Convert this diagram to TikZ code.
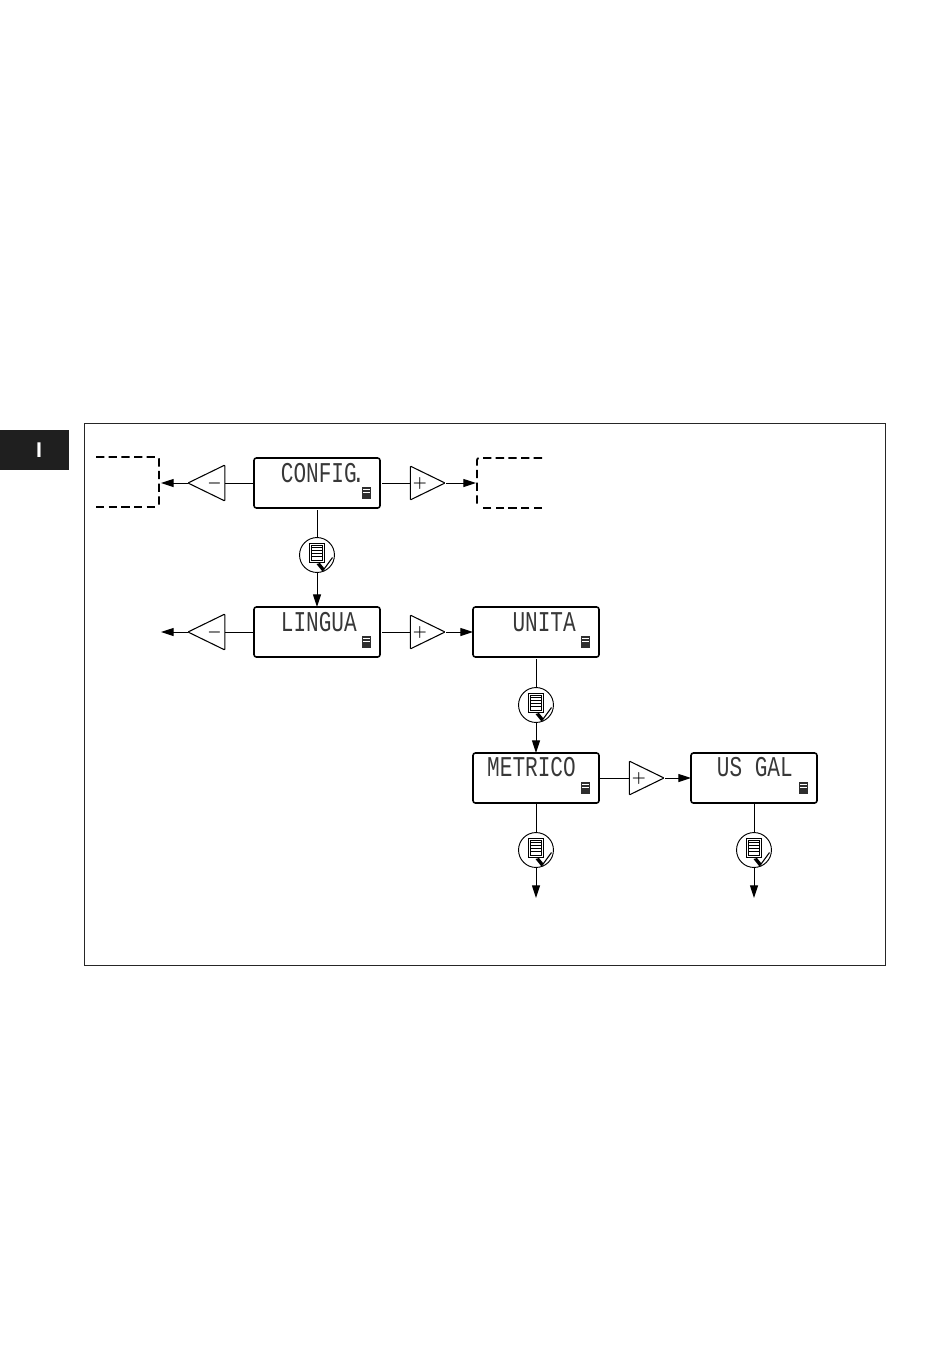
\documentclass[tikz,border=0pt]{standalone}
\usepackage{fontspec}
\newfontfamily\lcdfont{Liberation Mono}
\setsansfont{Liberation Sans}
\usetikzlibrary{calc, positioning, arrows.meta, shapes.geometric}
\colorlet{TabDark}{black!88}
\tikzset{
    lcdbox/.style={
        draw, line width=1.2pt, rounded corners=1.8pt, minimum width=94.5pt, minimum height=37.5pt,
        inner sep=0pt, outer sep=0pt,
        path picture={
            \begin{scope}[sharp corners, shift={(path picture bounding box.center)}]
            \fill[black!82] (45,3.5) rectangle (54,15.5);
            \draw[white, line width=0.3pt] (46,6.5) -- (53,6.5);
            \draw[white, line width=0.3pt] (46,8.8) -- (53,8.8);
            \end{scope}
        }
    },
    lcdtext/.style={anchor=base east, inner sep=0pt, text=black!78, font=\lcdfont\fontsize{15.8pt}{16pt}\selectfont},
    keybtn/.style={
        draw, line width=0.8pt, isosceles triangle, isosceles triangle apex angle=52,
        inner sep=0pt, outer sep=0pt, rounded corners=0.6pt, anchor=apex, font=\large\boldmath
    },
    plusbtn/.style={keybtn, minimum height=26pt},
    minusbtn/.style={keybtn, minimum height=27.6pt, shape border rotate=180},
    okbtn/.style={
        draw, circle, line width=0.7pt, minimum size=26.2pt, inner sep=0pt, outer sep=0pt,
        path picture={
            \begin{scope}[shift={(path picture bounding box.center)}]
            \draw[line width=0.5pt] (-8,-12) rectangle (7.5,7);
            \draw[line width=0.4pt] (-6,-10) rectangle (5.5,5);
            \foreach \h in {-7.5,-4.5,-1.5,1.5}
                \draw[line width=0.5pt] (-5,\h) -- (4.5,\h);
            \fill[white] (-2,8) -- (5,8) -- (5,13) -- (2,13) -- cycle;
            \fill (-0.5,9) -- (3,8) -- (7.5,13.5) -- (5.5,16.5) -- cycle;
            \draw[line width=0.8pt] (6,15.5) -- (15.5,2.5);
            \end{scope}
        }
    },
    link/.style={line width=0.7pt},
    linkgap/.style={link, shorten <=1.5pt},
    flow/.style={link, -{Triangle[length=9.5pt,width=6pt]}},
    flowgap/.style={flow, shorten <=1pt},
    dashbox/.style={line width=1.3pt, dash pattern=on 6.2pt off 3.3pt}
}

\begin{document}
\begin{tikzpicture}[x=0.75pt, y=-0.75pt]

\useasboundingbox (0,0) rectangle (950,1346);

% Marco y solapa
\draw[line width=0.6pt, black!85] (84.5,423.5) rectangle (885,965);
\node[fill=TabDark, minimum width=51.75pt, minimum height=30pt, inner sep=0pt, anchor=north west] (tab) at (0,430) {};
\node[white, font=\sffamily\bfseries\fontsize{16pt}{16pt}\selectfont] (tabI) at (39,450) {I};

% Pantallas
\node[lcdbox] (config) at (317,483) {};
\node[lcdbox] (lingua) at (317,632) {};
\node[lcdbox] (unita) at (536,632) {};
\node[lcdbox] (metrico) at (536,778) {};
\node[lcdbox] (usgal) at (754,778) {};

\node[lcdtext] (configT) at ($(config.north west)+(103,24)$) {\scalebox{1}[1.36]{CONFIG\rlap{\kern-3.5pt.}}};
\node[lcdtext] (linguaT) at ($(lingua.north west)+(103,24)$) {\scalebox{1}[1.36]{LINGUA}};
\node[lcdtext] (unitaT) at ($(unita.north west)+(103,24)$) {\scalebox{1}[1.36]{UNITA}};
\node[lcdtext] (metricoT) at ($(metrico.north west)+(103,23)$) {\scalebox{1}[1.36]{METRICO}};
\node[lcdtext] (usgalT) at ($(usgal.north west)+(102,23)$) {\scalebox{1}[1.36]{US GAL}};

% Teclas
\node[minusbtn] (minusA) at (188,483) {$-$};
\node[plusbtn] (plusA) at (445,483) {$+$};
\node[minusbtn] (minusB) at (188,632) {$-$};
\node[plusbtn] (plusB) at (445,632) {$+$};
\node[plusbtn] (plusC) at (664,778) {$+$};

\node[okbtn] (okA) at (317,555) {};
\node[okbtn] (okB) at (536,705) {};
\node[okbtn] (okC) at (536,850) {};
\node[okbtn] (okD) at (754,850) {};

% Extremos libres
\coordinate (endA) at (161,483);
\coordinate (endB) at (476,483);
\coordinate (endC) at (161,632);
\coordinate (endD) at (536,898);
\coordinate (endE) at (754,898);

% Recuadros discontinuos, abiertos por un lado
\draw[dashbox, rounded corners=1.5pt] (96,457) -- (159,457) -- (159,506);
\draw[dashbox] (96,507) -- (158,507);
\draw[dashbox, rounded corners=1.5pt] (542,458) -- (477,458) -- (477,505);
\draw[dashbox] (542,508) -- (480,508);

% Conexiones
\draw[link] (config.west) -- (minusA.lower side);
\draw[linkgap] (config.east) -- (plusA.lower side);
\draw[flow] (minusA.apex) -- (endA);
\draw[flowgap] (plusA.apex) -- (endB);

\draw[linkgap] (config.south) -- (okA);
\draw[flow] (okA) -- (lingua);

\draw[link] (lingua.west) -- (minusB.lower side);
\draw[linkgap] (lingua.east) -- (plusB.lower side);
\draw[flow] (minusB.apex) -- (endC);
\draw[flowgap] (plusB.apex) -- (unita.west);

\draw[linkgap] (unita.south) -- (okB);
\draw[flow] (okB) -- (metrico);

\draw[link] (metrico.east) -- (plusC.lower side);
\draw[flowgap] (plusC.apex) -- (usgal.west);

\draw[link] (metrico.south) -- (okC);
\draw[link] (usgal.south) -- (okD);
\draw[flow] (okC) -- (endD);
\draw[flow] (okD) -- (endE);

\end{tikzpicture}
\end{document}
